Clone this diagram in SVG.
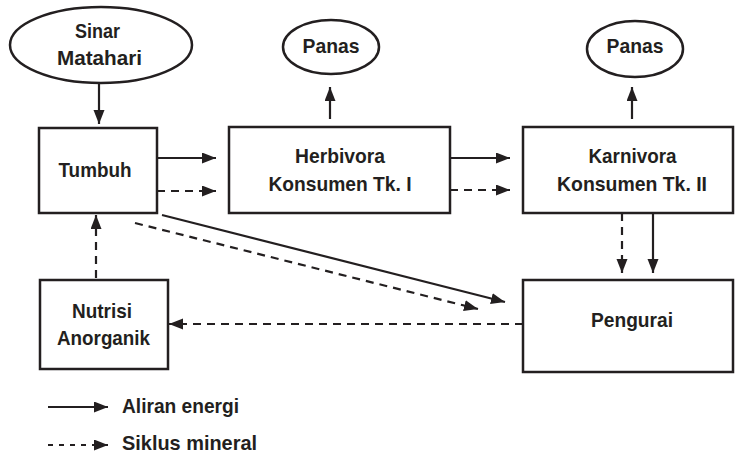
<svg xmlns="http://www.w3.org/2000/svg" width="735" height="454" viewBox="0 0 735 454">
<style>
.box{fill:#fff;stroke:#231f20;stroke-width:2.5}
.t{font-family:"Liberation Sans",Arial,sans-serif;font-weight:bold;font-size:21px;fill:#231f20;text-anchor:middle}
.lg{text-anchor:start}
.c{stroke:#231f20;stroke-width:2.2;fill:none}
.d{stroke-dasharray:8 6}
.ld{stroke-dasharray:5 6}
</style>
<defs>
<marker id="ah" markerUnits="userSpaceOnUse" markerWidth="14" markerHeight="12" refX="14" refY="5.5" orient="auto">
<path d="M0,0 L14,5.5 L0,11 z" fill="#231f20"/>
</marker>
</defs>
<rect width="735" height="454" fill="#fff"/>
<g id="sinar"><ellipse class="box" cx="101" cy="45" rx="91" ry="38"/><text class="t" x="97.5" y="38" textLength="45" lengthAdjust="spacingAndGlyphs">Sinar</text><text class="t" x="99.5" y="65" textLength="85" lengthAdjust="spacingAndGlyphs">Matahari</text></g>
<g id="panas1"><ellipse class="box" cx="331" cy="47" rx="48" ry="27"/><text class="t" x="331" y="53" textLength="57" lengthAdjust="spacingAndGlyphs">Panas</text></g>
<g id="panas2"><ellipse class="box" cx="635" cy="49" rx="48" ry="28"/><text class="t" x="635" y="53" textLength="57" lengthAdjust="spacingAndGlyphs">Panas</text></g>
<g id="tumbuh"><rect class="box" x="39" y="128" width="118" height="85"/><text class="t" x="95" y="177" textLength="73" lengthAdjust="spacingAndGlyphs">Tumbuh</text></g>
<g id="herbivora"><rect class="box" x="229" y="127" width="221" height="86"/><text class="t" x="340" y="163" textLength="90" lengthAdjust="spacingAndGlyphs">Herbivora</text><text class="t" x="340" y="191" textLength="143" lengthAdjust="spacingAndGlyphs">Konsumen Tk. I</text></g>
<g id="karnivora"><rect class="box" x="523" y="127" width="210" height="86"/><text class="t" x="632.5" y="163" textLength="88" lengthAdjust="spacingAndGlyphs">Karnivora</text><text class="t" x="632" y="191" textLength="150" lengthAdjust="spacingAndGlyphs">Konsumen Tk. II</text></g>
<g id="nutrisi"><rect class="box" x="40" y="280" width="128" height="89"/><text class="t" x="102" y="318" textLength="60" lengthAdjust="spacingAndGlyphs">Nutrisi</text><text class="t" x="103.5" y="345" textLength="93" lengthAdjust="spacingAndGlyphs">Anorganik</text></g>
<g id="pengurai"><rect class="box" x="523" y="280" width="210" height="92"/><text class="t" x="632" y="327" textLength="82" lengthAdjust="spacingAndGlyphs">Pengurai</text></g>
<g id="connectors">
<line class="c" x1="99" y1="84" x2="99" y2="124" marker-end="url(#ah)"/>
<line class="c" x1="157" y1="158" x2="216" y2="158" marker-end="url(#ah)"/>
<line class="c d" x1="157" y1="191" x2="216" y2="191" marker-end="url(#ah)"/>
<line class="c" x1="450" y1="158" x2="510" y2="158" marker-end="url(#ah)"/>
<line class="c d" x1="450" y1="190" x2="510" y2="190" marker-end="url(#ah)"/>
<line class="c" x1="330" y1="119" x2="330" y2="87" marker-end="url(#ah)"/>
<line class="c" x1="632" y1="119" x2="632" y2="87" marker-end="url(#ah)"/>
<line class="c d" x1="622" y1="213" x2="622" y2="273" marker-end="url(#ah)"/>
<line class="c" x1="653" y1="213" x2="653" y2="273" marker-end="url(#ah)"/>
<line class="c" x1="162" y1="215" x2="505" y2="302" marker-end="url(#ah)"/>
<line class="c d" x1="135" y1="223" x2="478" y2="309" marker-end="url(#ah)"/>
<line class="c d" x1="523" y1="324" x2="169" y2="324" marker-end="url(#ah)"/>
<line class="c d" x1="96" y1="278" x2="96" y2="215" marker-end="url(#ah)"/>
</g>
<g id="legend">
<line class="c" x1="48" y1="407" x2="108" y2="407" marker-end="url(#ah)"/>
<line class="c ld" x1="48" y1="445" x2="108" y2="445" marker-end="url(#ah)"/>
<text class="t lg" x="122" y="413" textLength="117" lengthAdjust="spacingAndGlyphs">Aliran energi</text>
<text class="t lg" x="122" y="450" textLength="135" lengthAdjust="spacingAndGlyphs">Siklus mineral</text>
</g>
</svg>
